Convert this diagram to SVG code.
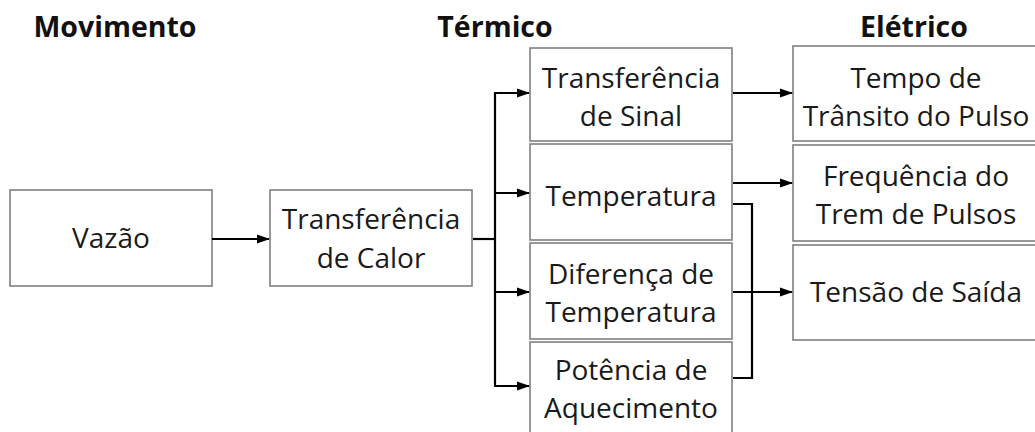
<svg xmlns="http://www.w3.org/2000/svg" width="1035" height="432" viewBox="0 0 1035 432">
<defs>
<style>
.box{fill:#fff;stroke:#7f7f7f;stroke-width:1.6}
.t{font-family:"Open Sans","Noto Sans","Liberation Sans",sans-serif;font-size:28px;fill:#1a1a1a;text-anchor:middle}
.h{font-family:"Open Sans","Noto Sans","Liberation Sans",sans-serif;font-size:28.5px;font-weight:bold;fill:#111;text-anchor:middle}
.c{fill:none;stroke:#000;stroke-width:2.2}
</style>
<marker id="ar" markerWidth="13" markerHeight="11" refX="12" refY="5.5" orient="auto" markerUnits="userSpaceOnUse">
<path d="M0,1 L13,5.5 L0,10 Z" fill="#000"/>
</marker>
</defs>
<rect width="1035" height="432" fill="#fff"/>
<g id="headers">
<text class="h" x="115" y="37">Movimento</text>
<text class="h" x="495" y="37">Térmico</text>
<text class="h" x="914" y="37">Elétrico</text>
</g>
<g id="vazao"><rect class="box" x="10" y="190" width="202" height="96"/><text class="t" x="111" y="248">Vazão</text></g>
<g id="transf-calor"><rect class="box" x="270" y="190" width="202" height="96"/><text class="t" x="371" y="229">Transferência</text><text class="t" x="371" y="268">de Calor</text></g>
<g id="transf-sinal"><rect class="box" x="530" y="48" width="202" height="93"/><text class="t" x="631" y="88">Transferência</text><text class="t" x="631" y="126">de Sinal</text></g>
<g id="temperatura"><rect class="box" x="530" y="144" width="202" height="96"/><text class="t" x="631" y="206">Temperatura</text></g>
<g id="diferenca"><rect class="box" x="530" y="243" width="202" height="96"/><text class="t" x="631" y="284">Diferença de</text><text class="t" x="631" y="322">Temperatura</text></g>
<g id="potencia"><rect class="box" x="530" y="342" width="202" height="96"/><text class="t" x="631" y="380">Potência de</text><text class="t" x="631" y="418">Aquecimento</text></g>
<g id="tempo"><rect class="box" x="793" y="46" width="250" height="95"/><text class="t" x="916" y="88">Tempo de</text><text class="t" x="916" y="126">Trânsito do Pulso</text></g>
<g id="frequencia"><rect class="box" x="793" y="145" width="250" height="96"/><text class="t" x="916" y="186">Frequência do</text><text class="t" x="916" y="224">Trem de Pulsos</text></g>
<g id="tensao"><rect class="box" x="793" y="245" width="250" height="95"/><text class="t" x="916" y="302">Tensão de Saída</text></g>
<g id="connectors">
<line class="c" x1="212" y1="239" x2="269" y2="239" marker-end="url(#ar)"/>
<polyline class="c" points="473,239 495,239"/>
<line class="c" x1="495" y1="93" x2="495" y2="386"/>
<line class="c" x1="494" y1="93" x2="529" y2="93" marker-end="url(#ar)"/>
<line class="c" x1="494" y1="193" x2="529" y2="193" marker-end="url(#ar)"/>
<line class="c" x1="494" y1="292" x2="529" y2="292" marker-end="url(#ar)"/>
<line class="c" x1="494" y1="386" x2="529" y2="386" marker-end="url(#ar)"/>
<line class="c" x1="733" y1="93" x2="792" y2="93" marker-end="url(#ar)"/>
<line class="c" x1="733" y1="183" x2="792" y2="183" marker-end="url(#ar)"/>
<line class="c" x1="733" y1="292" x2="792" y2="292" marker-end="url(#ar)"/>
<polyline class="c" points="733,204 752,204 752,378 733,378"/>
</g>
</svg>
